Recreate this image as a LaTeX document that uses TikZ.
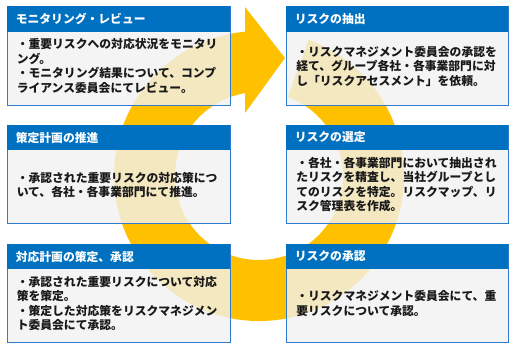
\documentclass[tikz,border=0pt]{standalone}
\usepackage{fontspec}
\setmainfont{Noto Sans CJK JP}
\definecolor{gold}{HTML}{FFC000}
\definecolor{hblue}{HTML}{0070C0}
\definecolor{bblue}{HTML}{2E7BCF}
\definecolor{bodygray}{HTML}{F2F2F2}
\tikzset{
  bodybox/.style={draw=bblue, line width=0.8pt, fill=bodygray, fill opacity=0.8, text opacity=1,
    minimum height=98.5pt, inner sep=0pt},
  headbox/.style={fill=hblue, text=white, anchor=north west, minimum height=25.5pt,
    inner ysep=0pt, inner xsep=9pt, align=left,
    font=\fontsize{11.8}{14.5}\selectfont\bfseries},
  bodytext/.style={anchor=west, inner sep=0pt, align=left, text width=208pt,
    font=\fontsize{11.8}{14.5}\selectfont\bfseries, text=black!90},
}
\begin{document}
\begin{tikzpicture}[x=1pt,y=1pt]
\useasboundingbox (0,0) rectangle (516,349);
\fill[white] (0,0) rectangle (516,349);
% ring arrow
\begin{scope}[shift={(259,173)}]
\fill[gold] (70:145pt) arc[start angle=70, end angle=-264.46, radius=145pt]
  -- (-260.4:84pt) arc[start angle=-260.4, end angle=70, radius=84pt] -- cycle;
\end{scope}
\coordinate (ah1) at (245,342);
\coordinate (ah2) at (285,291);
\coordinate (ah3) at (245,236);
\fill[gold] (ah1) -- (ah2) -- (ah3) -- cycle;
% boxes
\node[bodybox, minimum width=223pt] (b1) at (118.5,293.25) {};
\node[bodybox, minimum width=223pt] (b2) at (118.5,174.75) {};
\node[bodybox, minimum width=223pt] (b3) at (118.5,55.75) {};
\node[bodybox, minimum width=222pt] (b4) at (397,293.25) {};
\node[bodybox, minimum width=222pt] (b5) at (397,174.75) {};
\node[bodybox, minimum width=222pt] (b6) at (397,55.75) {};
\node[headbox, text width=205pt] (h1) at (b1.north west) {モニタリング・レビュー};
\node[headbox, text width=205pt] (h2) at (b2.north west) {策定計画の推進};
\node[headbox, text width=205pt] (h3) at (b3.north west) {対応計画の策定、承認};
\node[headbox, text width=204pt] (h4) at (b4.north west) {リスクの抽出};
\node[headbox, text width=204pt] (h5) at (b5.north west) {リスクの選定};
\node[headbox, text width=204pt] (h6) at (b6.north west) {リスクの承認};
\node[bodytext] (t1) at ([xshift=10pt,yshift=-10.5pt]b1.west) {・重要リスクへの対応状況をモニタリ\\ング。\\・モニタリング結果について、コンプ\\ライアンス委員会にてレビュー。};
\node[bodytext] (t2) at ([xshift=10pt,yshift=-10.5pt]b2.west) {・承認された重要リスクの対応策につ\\いて、各社・各事業部門にて推進。};
\node[bodytext] (t3) at ([xshift=10pt,yshift=-10.5pt]b3.west) {・承認された重要リスクについて対応\\策を策定。\\・策定した対応策をリスクマネジメン\\ト委員会にて承認。};
\node[bodytext] (t4) at ([xshift=10.5pt,yshift=-10.5pt]b4.west) {・リスクマネジメント委員会の承認を\\経て、グループ各社・各事業部門に対\\し「リスクアセスメント」を依頼。};
\node[bodytext] (t5) at ([xshift=10.5pt,yshift=-10.5pt]b5.west) {・各社・各事業部門において抽出され\\たリスクを精査し、当社グループとし\\てのリスクを特定。リスクマップ、リ\\スク管理表を作成。};
\node[bodytext] (t6) at ([xshift=10.5pt,yshift=-10.5pt]b6.west) {・リスクマネジメント委員会にて、重\\要リスクについて承認。};
\end{tikzpicture}
\end{document}
